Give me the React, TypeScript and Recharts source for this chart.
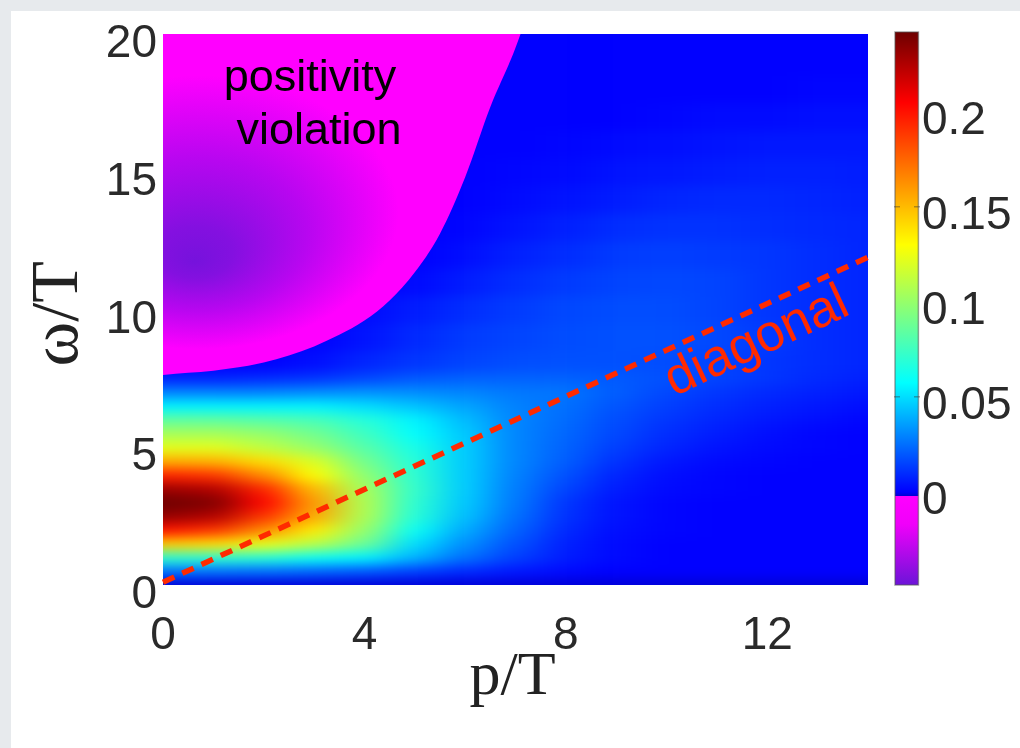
import React from "react";
import {
  Area,
  Bar,
  ComposedChart,
  Line,
  ReferenceDot,
  ReferenceLine,
  Scatter,
  XAxis,
  YAxis,
} from "recharts";

// axis levels of the grid
const pLevels = [0, 1, 2, 3, 4, 5, 6, 7, 8, 9, 10, 11, 12, 13, 14];
const omegaLevels = [
  0, 0.5, 1, 1.5, 2, 2.5, 3, 3.5, 4, 4.5, 5, 5.5, 6, 6.5, 7, 7.5, 8, 9, 10, 11,
  12, 13, 14, 15, 16, 17, 18, 19, 20,
];

// spectral value, one row per omega level, one column per p level
const zRows = [
  [-0.001, -0.001, -0.001, -0.001, -0.001, -0.001, -0.001, -0.001, -0.001, -0.001, -0.001, -0.001, -0.001, -0.001, -0.001],
  [0.025, 0.025, 0.024, 0.022, 0.019, 0.014, 0.009, 0.005, 0.002, 0, 0, 0, 0, 0, 0],
  [0.07, 0.07, 0.068, 0.06, 0.055, 0.04, 0.025, 0.014, 0.006, 0.002, 0, 0, 0, 0, 0],
  [0.145, 0.14, 0.125, 0.11, 0.088, 0.05, 0.032, 0.018, 0.007, 0.002, 0, 0, 0, 0, 0],
  [0.2, 0.19, 0.165, 0.135, 0.1, 0.06, 0.038, 0.022, 0.009, 0.003, 0.001, 0, 0, 0, 0],
  [0.232, 0.225, 0.19, 0.155, 0.107, 0.068, 0.043, 0.025, 0.011, 0.004, 0.001, 0, 0, 0, 0],
  [0.245, 0.238, 0.205, 0.16, 0.108, 0.07, 0.045, 0.027, 0.012, 0.004, 0.001, 0, 0, 0, 0],
  [0.23, 0.225, 0.195, 0.15, 0.105, 0.072, 0.046, 0.028, 0.015, 0.006, 0.002, 0.001, 0, 0, 0],
  [0.195, 0.19, 0.165, 0.13, 0.098, 0.07, 0.046, 0.029, 0.018, 0.008, 0.003, 0.001, 0, 0, 0],
  [0.155, 0.153, 0.14, 0.12, 0.09, 0.068, 0.046, 0.03, 0.021, 0.011, 0.005, 0.002, 0.001, 0, 0],
  [0.122, 0.122, 0.112, 0.1, 0.082, 0.064, 0.046, 0.03, 0.022, 0.014, 0.008, 0.004, 0.002, 0.001, 0],
  [0.105, 0.105, 0.1, 0.09, 0.075, 0.058, 0.045, 0.03, 0.023, 0.016, 0.01, 0.006, 0.003, 0.001, 0],
  [0.085, 0.085, 0.082, 0.078, 0.068, 0.055, 0.042, 0.03, 0.024, 0.017, 0.012, 0.008, 0.005, 0.003, 0.001],
  [0.055, 0.055, 0.055, 0.055, 0.05, 0.044, 0.037, 0.029, 0.025, 0.019, 0.014, 0.01, 0.007, 0.005, 0.003],
  [0.03, 0.03, 0.03, 0.032, 0.033, 0.032, 0.03, 0.027, 0.026, 0.021, 0.016, 0.012, 0.009, 0.007, 0.005],
  [0.008, 0.008, 0.01, 0.012, 0.016, 0.02, 0.022, 0.022, 0.022, 0.02, 0.018, 0.015, 0.012, 0.009, 0.007],
  [0, 0, 0, 0.003, 0.008, 0.012, 0.015, 0.017, 0.018, 0.018, 0.017, 0.015, 0.012, 0.01, 0.008],
  [0, 0, 0, 0, 0.004, 0.009, 0.013, 0.015, 0.017, 0.018, 0.018, 0.016, 0.013, 0.01, 0.008],
  [0, 0, 0, 0, 0.002, 0.006, 0.01, 0.013, 0.016, 0.017, 0.017, 0.015, 0.012, 0.01, 0.008],
  [0, 0, 0, 0, 0, 0.002, 0.006, 0.01, 0.013, 0.015, 0.016, 0.015, 0.012, 0.01, 0.008],
  [0, 0, 0, 0, 0, 0, 0.003, 0.007, 0.01, 0.013, 0.014, 0.013, 0.012, 0.01, 0.008],
  [0, 0, 0, 0, 0, 0, 0.001, 0.004, 0.007, 0.01, 0.011, 0.011, 0.01, 0.009, 0.008],
  [0, 0, 0, 0, 0, 0, 0, 0.002, 0.004, 0.006, 0.008, 0.009, 0.009, 0.008, 0.007],
  [0, 0, 0, 0, 0, 0, 0, 0.001, 0.002, 0.004, 0.005, 0.006, 0.007, 0.007, 0.006],
  [0, 0, 0, 0, 0, 0, 0, 0, 0.001, 0.002, 0.003, 0.004, 0.005, 0.005, 0.005],
  [0, 0, 0, 0, 0, 0, 0, 0, 0, 0, 0.001, 0.002, 0.002, 0.003, 0.003],
  [0, 0, 0, 0, 0, 0, 0, 0, 0, 0, 0, 0, 0, 0.001, 0.001],
  [0, 0, 0, 0, 0, 0, 0, 0, 0, 0, 0, 0, 0, 0, 0],
  [0, 0, 0, 0, 0, 0, 0, 0, 0, 0, 0, 0, 0, 0, 0],
];

// edge of the negative (positivity violation) region
const violationP = [0, 0.5, 1, 1.5, 2, 2.5, 3, 3.5, 4, 4.5, 5, 5.5, 6, 6.5, 7, 7.1];
const violationOmega = [7.62, 7.7, 7.78, 7.9, 8.08, 8.33, 8.66, 9.08, 9.6, 10.33, 11.35, 12.75, 14.8, 17.35, 19.5, 20];

const diagonalPoints = [
  { p: 0, omega: 0.1 },
  { p: 14, omega: 11.9 },
];

const xTicks = [0, 4, 8, 12];
const yTicks = [0, 5, 10, 15, 20];
const barTicks = [0, 0.05, 0.1, 0.15, 0.2];

// colour bar stops: value, colour
const jetValues = [0, 0.0574, 0.0937, 0.13, 0.205, 0.242];
const jetColors = [
  [0, 0, 255],
  [0, 255, 255],
  [128, 255, 128],
  [255, 255, 0],
  [255, 0, 0],
  [110, 0, 0],
];
const BAR_TOP = 0.242;
const BAR_BOTTOM = -0.049;

const PX_P = 705 / 14;
const PX_W = 551 / 20;

function jet(v: number) {
  if (v < 0) return "rgb(0,0,216)";
  let i = 0;
  while (i < jetValues.length - 2 && v > jetValues[i + 1]) i++;
  const t = Math.min(1, (v - jetValues[i]) / (jetValues[i + 1] - jetValues[i]));
  const c = jetColors[i].map((a, k) => Math.round(a + (jetColors[i + 1][k] - a) * t));
  return `rgb(${c[0]},${c[1]},${c[2]})`;
}

const heatCells = omegaLevels.flatMap((omega, i) =>
  pLevels.map((p, j) => ({ p, omega, z: zRows[i][j] }))
);
const violationData = violationP.map((p, i) => ({
  p,
  range: [violationOmega[i], 20],
}));

// a cell of the grid; edge cells run on past the plot so the blur stays full there
function HeatCell(props: any) {
  const { cx, cy, payload } = props;
  const halfUp = (payload.omega < 8 ? 0.25 : 0.5) * PX_W;
  const halfDown = (payload.omega <= 8 ? 0.25 : 0.5) * PX_W;
  const left = cx - PX_P / 2 - (payload.p === 0 ? 60 : 0);
  const right = cx + PX_P / 2 + (payload.p === 14 ? 60 : 0);
  const top = cy - halfUp - (payload.omega === 20 ? 40 : 0) - 0.5;
  const bottom = cy + halfDown + (payload.omega === 0 ? 40 : 0) + 0.5;
  return <rect x={left} y={top} width={right - left} height={bottom - top} fill={jet(payload.z)} />;
}

const sans = "'Liberation Sans', Arial, sans-serif";
const serif = "'Liberation Serif', 'Times New Roman', serif";

function AxisTick(props: any) {
  const { x, y, payload, dx = 0, dy = 0, anchor } = props;
  return (
    <text x={x + dx} y={y + dy} textAnchor={anchor} fontFamily={sans} fontSize={46} fill="#2a2a2a">
      {payload.value}
    </text>
  );
}

function ColorBar() {
  return (
    <ComposedChart
      width={1020}
      height={748}
      data={[{ name: "bar", range: [BAR_BOTTOM, BAR_TOP] }]}
      margin={{ top: 32, right: 0, bottom: 163, left: 894 }}
      style={{ position: "absolute", left: 0, top: 0, filter: "blur(0.6px)" }}
    >
      <defs>
        <linearGradient id="barFill" x1="0" y1="0" x2="0" y2="1">
          {jetValues
            .map((v, i) => ({ v, c: jetColors[i] }))
            .reverse()
            .map(({ v, c }) => (
              <stop
                key={v}
                offset={(BAR_TOP - v) / (BAR_TOP - BAR_BOTTOM)}
                stopColor={`rgb(${c[0]},${c[1]},${c[2]})`}
              />
            ))}
          <stop offset={0.8385} stopColor="#0000d8" />
          <stop offset={0.8385} stopColor="#ff00ff" />
          <stop offset={0.89} stopColor="#f000fa" />
          <stop offset={1} stopColor="#6c14d8" />
        </linearGradient>
      </defs>
      <XAxis dataKey="name" type="category" hide />
      <YAxis
        orientation="right"
        width={100}
        type="number"
        domain={[BAR_BOTTOM, BAR_TOP]}
        ticks={barTicks}
        axisLine={false}
        tickLine={false}
        interval={0}
        tick={<AxisTick dx={-6} dy={22} anchor="start" />}
      />
      <Bar
        dataKey="range"
        fill="url(#barFill)"
        stroke="#555"
        strokeOpacity={0.55}
        strokeWidth={1.5}
        barSize={26}
        isAnimationActive={false}
      />
      <ReferenceLine y={0.05} stroke="#333" strokeOpacity={0.6} strokeDasharray="6 14 6" />
      <ReferenceLine y={0.15} stroke="#333" strokeOpacity={0.6} strokeDasharray="6 14 6" />
    </ComposedChart>
  );
}

export default function App() {
  return (
    <div style={{ position: "relative", width: 1020, height: 748, background: "#e7eaed", overflow: "hidden" }}>
      <style>{`
        body { margin: 0; }
        .heat-layer { filter: url(#heatBlur); clip-path: url(#plotClip); }
      `}</style>
      <div style={{ position: "absolute", left: 11, top: 11, width: 1009, height: 737, background: "#fff" }} />
      <ComposedChart
        width={1020}
        height={748}
        margin={{ top: 34, right: 152, bottom: 103, left: 103 }}
        style={{ position: "absolute", left: 0, top: 0, filter: "blur(0.6px)" }}
      >
        <defs>
          <filter id="heatBlur" x="-10%" y="-10%" width="120%" height="120%" colorInterpolationFilters="sRGB">
            <feGaussianBlur stdDeviation="18 6" />
          </filter>
          <clipPath id="plotClip">
            <rect x={163} y={34} width={705} height={551} />
          </clipPath>
          <radialGradient
            id="violationFill"
            gradientUnits="userSpaceOnUse"
            cx="0"
            cy="0"
            r="1"
            fx="-0.02"
            fy="0.36"
            gradientTransform="translate(200 195) scale(270 185)"
          >
            <stop offset="0" stopColor="#7612dc" />
            <stop offset="0.14" stopColor="#8410e0" />
            <stop offset="0.41" stopColor="#b806f0" />
            <stop offset="0.74" stopColor="#ff00ff" />
          </radialGradient>
        </defs>
        <XAxis
          dataKey="p"
          type="number"
          domain={[0, 14]}
          ticks={xTicks}
          height={60}
          interval={0}
          axisLine={false}
          tickLine={false}
          tick={<AxisTick dy={56} anchor="middle" />}
          label={{
            value: "p/T",
            position: "insideBottom",
            offset: -49,
            dx: -3,
            style: { fontFamily: serif, fontSize: 62, fill: "#222" },
          }}
        />
        <YAxis
          dataKey="omega"
          type="number"
          domain={[0, 20]}
          ticks={yTicks}
          width={60}
          interval={0}
          axisLine={false}
          tickLine={false}
          tick={<AxisTick dx={2} dy={23} anchor="end" />}
          label={{
            value: "ω/T",
            angle: -90,
            position: "insideLeft",
            offset: -50,
            dy: 57,
            style: { fontFamily: serif, fontSize: 68, fill: "#222" },
          }}
        />
        <Scatter
          className="heat-layer"
          data={heatCells}
          shape={<HeatCell />}
          isAnimationActive={false}
          zIndex={100}
        />
        <Area
          data={violationData}
          dataKey="range"
          type="monotone"
          stroke="none"
          fill="url(#violationFill)"
          fillOpacity={1}
          dot={false}
          activeDot={false}
          isAnimationActive={false}
          zIndex={200}
        />
        <Line
          data={diagonalPoints}
          dataKey="omega"
          stroke="#ff2a00"
          strokeWidth={5.5}
          strokeDasharray="12.5 8.7"
          dot={false}
          activeDot={false}
          isAnimationActive={false}
          zIndex={300}
        />
        <ReferenceDot
          x={2.92}
          y={18.5}
          r={0}
          stroke="none"
          zIndex={400}
          label={{ value: "positivity", position: "center", fontFamily: sans, fontSize: 45, fill: "#000" }}
        />
        <ReferenceDot
          x={3.1}
          y={16.6}
          r={0}
          stroke="none"
          zIndex={400}
          label={{ value: "violation", position: "center", fontFamily: sans, fontSize: 45, fill: "#000" }}
        />
        <ReferenceDot
          x={11.76}
          y={8.95}
          r={0}
          stroke="none"
          zIndex={400}
          label={{ value: "diagonal", position: "center", angle: -25, fontFamily: sans, fontSize: 52, fill: "#ff2a00" }}
        />
      </ComposedChart>
      <ColorBar />
    </div>
  );
}
